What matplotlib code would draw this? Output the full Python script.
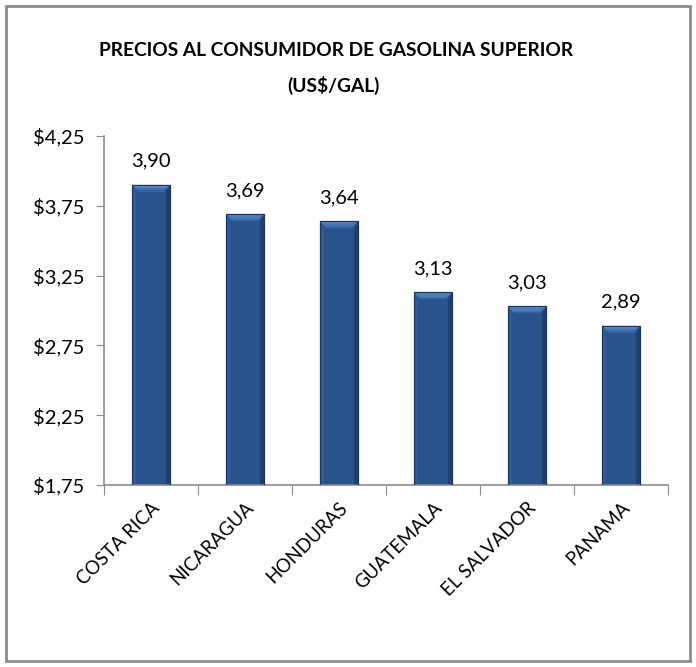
import matplotlib.pyplot as plt
from matplotlib.patches import Rectangle, Polygon
import numpy as np

paises = ['COSTA RICA', 'NICARAGUA', 'HONDURAS', 'GUATEMALA', 'EL SALVADOR', 'PANAMA']
precios = [3.90, 3.69, 3.64, 3.13, 3.03, 2.89]
yticks = [1.75, 2.25, 2.75, 3.25, 3.75, 4.25]
ytick_labels = ['$1,75', '$2,25', '$2,75', '$3,25', '$3,75', '$4,25']

plt.rcParams['font.family'] = ['Lato', 'DejaVu Sans']

fig = plt.figure(figsize=(6.96, 6.67), dpi=100)
ax = fig.add_axes([104/696, 1 - 485/667, 564/696, 349/667])

# marco gris alrededor del grafico
fig.patches.append(Rectangle((6/696, 6/667), 684/696, 655/667, transform=fig.transFigure,
                             fill=False, edgecolor='#8c8c8c', linewidth=2))

x = np.arange(len(paises))
w = 0.4
base = 1.75
ax.bar(x, np.array(precios) - base, bottom=base, width=w, color='#29538d',
       edgecolor='none', zorder=2)

# efecto biselado
dx = 6 / 94.0
dy = 7 * 0.5 / 70.0
for xi, v in zip(x, precios):
    x0, x1 = xi - w/2, xi + w/2
    # franja superior con degradado
    for k in range(6):
        f = k / 6.0
        c = np.array([0x6e, 0x9d, 0xdb]) * (1 - f) + np.array([0x2d, 0x5a, 0x96]) * f
        yt = v - dy * f
        yb = v - dy * (f + 1/6.0)
        ax.add_patch(Polygon([(x0 + dx*f, yt), (x1 - dx*f, yt),
                              (x1 - dx*(f + 1/6.0), yb), (x0 + dx*(f + 1/6.0), yb)],
                             closed=True, facecolor=c / 255.0, edgecolor='none', zorder=3))
    ax.add_patch(Polygon([(x0, base), (x0, v), (x0 + dx*0.6, v - dy), (x0 + dx*0.6, base)],
                         closed=True, facecolor='#2f5c9a', edgecolor='none', zorder=2.5))
    ax.add_patch(Polygon([(x1, base), (x1, v), (x1 - dx*0.6, v - dy), (x1 - dx*0.6, base)],
                         closed=True, facecolor='#1f3e6b', edgecolor='none', zorder=2.5))
    ax.add_patch(Rectangle((x0, base), w, v - base, fill=False, edgecolor='#1b365e',
                           linewidth=0.9, zorder=4))
    ax.text(xi, v + 0.17, '{:.2f}'.format(v).replace('.', ','), ha='center', va='center',
            fontsize=14.5, color='black')

ax.set_xlim(-0.5, len(paises) - 0.5)
ax.set_ylim(1.75, 4.25)
ax.set_yticks(yticks)
ax.set_yticklabels(ytick_labels, fontsize=14.5)
ax.set_xticks(np.arange(len(paises) + 1) - 0.5)
ax.set_xticklabels([])
ax.set_xticks(x, minor=True)
ax.set_xticklabels(paises, minor=True, rotation=45, ha='right', rotation_mode='anchor',
                   fontsize=13.5)
ax.tick_params(axis='x', which='minor', length=0, pad=10)
ax.tick_params(axis='x', which='major', length=7, color='#8c8c8c')
ax.tick_params(axis='y', length=6, color='#8c8c8c', pad=8)

for s in ['top', 'right']:
    ax.spines[s].set_visible(False)
for s in ['left', 'bottom']:
    ax.spines[s].set_color('#8c8c8c')
    ax.spines[s].set_linewidth(1.2)

fig.text(336/696, 1 - 50/667, 'PRECIOS AL CONSUMIDOR DE GASOLINA SUPERIOR', ha='center',
         va='center', fontsize=13.8, fontweight='bold')
fig.text(333/696, 1 - 85/667, '(US$/GAL)', ha='center', va='center', fontsize=13.8,
         fontweight='bold')

fig.savefig('out.png', dpi=100)
